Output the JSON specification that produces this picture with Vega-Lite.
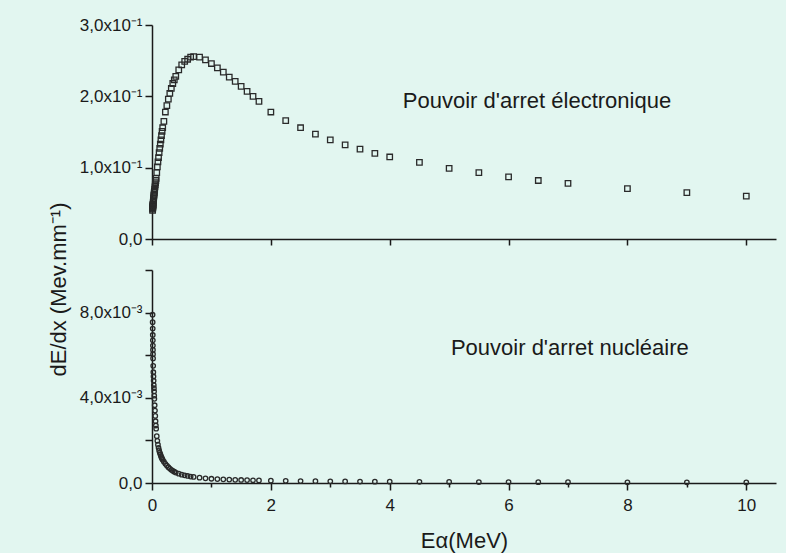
{
  "$schema": "https://vega.github.io/schema/vega-lite/v6.json",
  "background": "#e2f6f0",
  "padding": {"left": 46, "top": 16, "right": 10, "bottom": 2},
  "bounds": "flush",
  "spacing": 31,
  "config": {
    "view": {"stroke": null},
    "font": "Liberation Sans",
    "axis": {
      "domainColor": "#1a1a1a", "domainWidth": 1.5,
      "tickColor": "#1a1a1a", "tickWidth": 1.5,
      "labelColor": "#1a1a1a", "titleColor": "#1a1a1a",
      "labelFont": "Liberation Sans", "titleFont": "Liberation Sans",
      "labelFontSize": 17, "titleFontSize": 22, "titleFontWeight": "normal",
      "grid": false, "labelOverlap": false, "labelFlush": false, "labelBound": false
    }
  },
  "datasets": {
    "stop": [
      {"E": 0.01, "Se": 0.040, "Sn": 0.0079},
      {"E": 0.011, "Se": 0.042, "Sn": 0.00755},
      {"E": 0.012, "Se": 0.043, "Sn": 0.00725},
      {"E": 0.013, "Se": 0.044, "Sn": 0.00695},
      {"E": 0.014, "Se": 0.045, "Sn": 0.0067},
      {"E": 0.015, "Se": 0.046, "Sn": 0.00645},
      {"E": 0.016, "Se": 0.047, "Sn": 0.00625},
      {"E": 0.017, "Se": 0.048, "Sn": 0.00605},
      {"E": 0.018, "Se": 0.049, "Sn": 0.00585},
      {"E": 0.02, "Se": 0.051, "Sn": 0.0055},
      {"E": 0.0225, "Se": 0.053, "Sn": 0.0052},
      {"E": 0.025, "Se": 0.055, "Sn": 0.005},
      {"E": 0.0275, "Se": 0.057, "Sn": 0.0048},
      {"E": 0.03, "Se": 0.059, "Sn": 0.0046},
      {"E": 0.0325, "Se": 0.061, "Sn": 0.00445},
      {"E": 0.035, "Se": 0.063, "Sn": 0.0043},
      {"E": 0.0375, "Se": 0.065, "Sn": 0.0041},
      {"E": 0.04, "Se": 0.067, "Sn": 0.00395},
      {"E": 0.045, "Se": 0.070, "Sn": 0.00365},
      {"E": 0.05, "Se": 0.073, "Sn": 0.0034},
      {"E": 0.055, "Se": 0.076, "Sn": 0.00315},
      {"E": 0.06, "Se": 0.079, "Sn": 0.0029},
      {"E": 0.065, "Se": 0.082, "Sn": 0.0027},
      {"E": 0.07, "Se": 0.085, "Sn": 0.00255},
      {"E": 0.08, "Se": 0.093, "Sn": 0.0022},
      {"E": 0.09, "Se": 0.101, "Sn": 0.00198},
      {"E": 0.1, "Se": 0.108, "Sn": 0.0018},
      {"E": 0.11, "Se": 0.114, "Sn": 0.00165},
      {"E": 0.12, "Se": 0.121, "Sn": 0.00153},
      {"E": 0.13, "Se": 0.127, "Sn": 0.00143},
      {"E": 0.14, "Se": 0.133, "Sn": 0.00135},
      {"E": 0.15, "Se": 0.139, "Sn": 0.00127},
      {"E": 0.16, "Se": 0.145, "Sn": 0.0012},
      {"E": 0.17, "Se": 0.151, "Sn": 0.00114},
      {"E": 0.18, "Se": 0.156, "Sn": 0.00109},
      {"E": 0.2, "Se": 0.165, "Sn": 0.001},
      {"E": 0.225, "Se": 0.178, "Sn": 0.0009},
      {"E": 0.25, "Se": 0.187, "Sn": 0.00082},
      {"E": 0.275, "Se": 0.196, "Sn": 0.00074},
      {"E": 0.3, "Se": 0.204, "Sn": 0.00068},
      {"E": 0.325, "Se": 0.211, "Sn": 0.00062},
      {"E": 0.35, "Se": 0.218, "Sn": 0.00057},
      {"E": 0.375, "Se": 0.223, "Sn": 0.00053},
      {"E": 0.4, "Se": 0.228, "Sn": 0.00049},
      {"E": 0.45, "Se": 0.237, "Sn": 0.00044},
      {"E": 0.5, "Se": 0.244, "Sn": 0.00039},
      {"E": 0.55, "Se": 0.249, "Sn": 0.00036},
      {"E": 0.6, "Se": 0.252, "Sn": 0.00033},
      {"E": 0.65, "Se": 0.255, "Sn": 0.0003},
      {"E": 0.7, "Se": 0.2557, "Sn": 0.000285},
      {"E": 0.8, "Se": 0.255, "Sn": 0.00025},
      {"E": 0.9, "Se": 0.251, "Sn": 0.00022},
      {"E": 1.0, "Se": 0.246, "Sn": 0.0002},
      {"E": 1.1, "Se": 0.240, "Sn": 0.000185},
      {"E": 1.2, "Se": 0.234, "Sn": 0.000172},
      {"E": 1.3, "Se": 0.227, "Sn": 0.00016},
      {"E": 1.4, "Se": 0.221, "Sn": 0.00015},
      {"E": 1.5, "Se": 0.214, "Sn": 0.000142},
      {"E": 1.6, "Se": 0.207, "Sn": 0.000135},
      {"E": 1.7, "Se": 0.200, "Sn": 0.000128},
      {"E": 1.8, "Se": 0.193, "Sn": 0.000122},
      {"E": 2.0, "Se": 0.178, "Sn": 0.00011},
      {"E": 2.25, "Se": 0.166, "Sn": 0.0001},
      {"E": 2.5, "Se": 0.156, "Sn": 0.000091},
      {"E": 2.75, "Se": 0.147, "Sn": 0.000084},
      {"E": 3.0, "Se": 0.139, "Sn": 0.000078},
      {"E": 3.25, "Se": 0.132, "Sn": 0.000073},
      {"E": 3.5, "Se": 0.126, "Sn": 0.000068},
      {"E": 3.75, "Se": 0.120, "Sn": 0.000064},
      {"E": 4.0, "Se": 0.115, "Sn": 0.000061},
      {"E": 4.5, "Se": 0.1075, "Sn": 0.000055},
      {"E": 5.0, "Se": 0.099, "Sn": 0.00005},
      {"E": 5.5, "Se": 0.093, "Sn": 0.000046},
      {"E": 6.0, "Se": 0.087, "Sn": 0.000043},
      {"E": 6.5, "Se": 0.082, "Sn": 0.00004},
      {"E": 7.0, "Se": 0.078, "Sn": 0.000038},
      {"E": 8.0, "Se": 0.0705, "Sn": 0.000034},
      {"E": 9.0, "Se": 0.065, "Sn": 0.000031},
      {"E": 10.0, "Se": 0.060, "Sn": 0.000028}
    ]
  },
  "vconcat": [
    {
      "width": 624,
      "height": 214,
      "layer": [
        {
          "data": {"name": "stop"},
          "mark": {"type": "point", "shape": "square", "filled": false, "size": 30, "stroke": "#2a2a2a", "strokeWidth": 1.3, "opacity": 1},
          "encoding": {
            "x": {"field": "E", "type": "quantitative", "scale": {"domain": [0, 10.5], "nice": false, "zero": false},
                  "axis": {"values": [0, 2, 4, 6, 8, 10], "labels": false, "title": null, "tickSize": 6}},
            "y": {"field": "Se", "type": "quantitative", "scale": {"domain": [0, 0.3], "nice": false},
                  "axis": {"values": [0, 0.05, 0.1, 0.15, 0.2, 0.25, 0.3], "tickSize": 7, "labelPadding": 3, "title": null,
                           "labelExpr": "datum.value == 0 ? '0,0' : abs(datum.value - 0.1) < 1e-9 ? '1,0x10⁻¹' : abs(datum.value - 0.2) < 1e-9 ? '2,0x10⁻¹' : abs(datum.value - 0.3) < 1e-9 ? '3,0x10⁻¹' : ''"}}
          }
        },
        {
          "data": {"values": [{}]},
          "mark": {"type": "text", "align": "left", "baseline": "middle", "fontSize": 22, "font": "Liberation Sans", "color": "#1a1a1a"},
          "encoding": {
            "x": {"datum": 4.22, "type": "quantitative"},
            "y": {"datum": 0.1935, "type": "quantitative"},
            "text": {"value": "Pouvoir d'arret électronique"}
          }
        }
      ]
    },
    {
      "width": 624,
      "height": 213,
      "layer": [
        {
          "data": {"name": "stop"},
          "mark": {"type": "point", "shape": "circle", "filled": false, "size": 20, "stroke": "#2a2a2a", "strokeWidth": 1.3, "opacity": 1},
          "encoding": {
            "x": {"field": "E", "type": "quantitative", "scale": {"domain": [0, 10.5], "nice": false, "zero": false},
                  "axis": {"values": [0, 1, 2, 3, 4, 5, 6, 7, 8, 9, 10], "labelPadding": 7, "titlePadding": 17, "format": "d",
                           "tickSize": {"condition": {"test": "datum.value % 2 == 1", "value": 4}, "value": 7},
                           "labelExpr": "datum.value % 2 == 0 ? datum.label : ''",
                           "title": "Eα(MeV)"}},
            "y": {"field": "Sn", "type": "quantitative", "scale": {"domain": [0, 0.01], "nice": false},
                  "axis": {"values": [0, 0.002, 0.004, 0.006, 0.008, 0.01], "tickSize": 7, "labelPadding": 3,
                           "labelExpr": "datum.value == 0 ? '0,0' : abs(datum.value - 0.004) < 1e-9 ? '4,0x10⁻³' : abs(datum.value - 0.008) < 1e-9 ? '8,0x10⁻³' : ''",
                           "title": "dE/dx (Mev.mm⁻¹)", "titleX": -87, "titleY": 19, "titleBaseline": "alphabetic"}}
          }
        },
        {
          "data": {"values": [{}]},
          "mark": {"type": "text", "align": "left", "baseline": "middle", "fontSize": 22, "font": "Liberation Sans", "color": "#1a1a1a"},
          "encoding": {
            "x": {"datum": 5.03, "type": "quantitative"},
            "y": {"datum": 0.00635, "type": "quantitative"},
            "text": {"value": "Pouvoir d'arret nucléaire"}
          }
        }
      ]
    }
  ]
}
